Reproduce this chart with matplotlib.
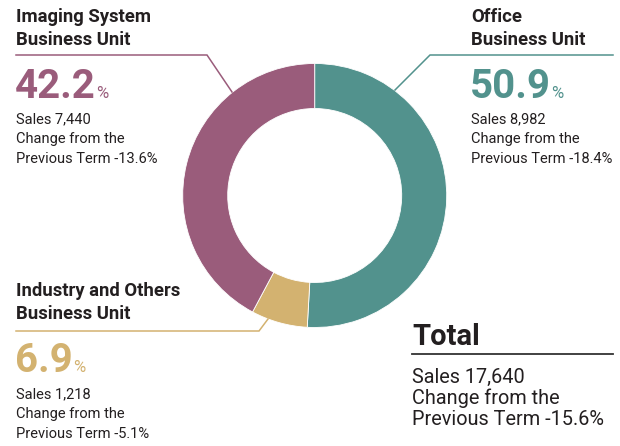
import matplotlib
matplotlib.use("Agg")
import matplotlib.pyplot as plt
from matplotlib import font_manager as fm

# data
units = ["Office\nBusiness Unit", "Industry and Others\nBusiness Unit", "Imaging System\nBusiness Unit"]
shares = [50.9, 6.9, 42.2]
sales = ["8,982", "1,218", "7,440"]
changes = ["-18.4%", "-5.1%", "-13.6%"]
colors = ["#52928d", "#d3b270", "#9a5c7b"]
total_sales = "17,640"
total_change = "-15.6%"

W, H = 620, 446
DARK = "#231f20"

font = "Roboto"
try:
    fm.findfont("Liberation Sans Narrow", fallback_to_default=False)
    font = "Liberation Sans Narrow"
except Exception:
    pass
plt.rcParams["font.family"] = [font, "DejaVu Sans"]

fig = plt.figure(figsize=(W / 100, H / 100), dpi=100)
ax = fig.add_axes([0, 0, 1, 1])

cx, cy, R, ring = 314.7, H - 195.5, 132, 45
ax.pie(shares, colors=colors, startangle=90, counterclock=False,
       center=(cx, cy), radius=R,
       wedgeprops=dict(width=ring, edgecolor="white", linewidth=0.6))
ax.set_xlim(0, W)
ax.set_ylim(0, H)
ax.set_aspect("equal")
ax.axis("off")


def y(p):
    return H - p


# leader lines (pixel coords from top-left)
leaders = [
    [(613, 55), (430, 55), (395, 90)],
    [(16, 331), (259, 331), (268, 319)],
    [(16, 55), (207, 55), (232, 92)],
]
for pts, c in zip(leaders, colors):
    ax.plot([p[0] for p in pts], [y(p[1]) for p in pts], color=c, lw=1.1,
            solid_joinstyle="miter")

# label blocks: x, title baseline, pct baseline, first info baseline
blocks = [(471, 22, 98, 123), (16, 296, 372, 398), (16, 22, 98, 123)]

fig.canvas.draw()
rend = fig.canvas.get_renderer()
for i, (x0, tb, pb, ib) in enumerate(blocks):
    l1, l2 = units[i].split("\n")
    ax.text(x0, y(tb), l1, fontsize=13.3, fontweight="bold", color=DARK, va="baseline")
    ax.text(x0, y(tb + 23), l2, fontsize=13.3, fontweight="bold", color=DARK, va="baseline")
    t = ax.text(x0 - 1, y(pb), f"{shares[i]}", fontsize=29, fontweight="bold",
                color=colors[i], va="baseline")
    bb = t.get_window_extent(renderer=rend)
    ax.text(bb.x1 + 0.5, y(pb), "%", fontsize=12, color=colors[i], va="baseline")
    info = [f"Sales {sales[i]}", "Change from the", f"Previous Term {changes[i]}"]
    for k, s in enumerate(info):
        ax.text(x0, y(ib + 20 * k), s, fontsize=10.5, color=DARK, va="baseline")

# total block
ax.text(412, y(345), "Total", fontsize=21, fontweight="bold", color=DARK, va="baseline")
ax.plot([412, 613], [y(354), y(354)], color="#333333", lw=1.3)
tot = [f"Sales {total_sales}", "Change from the", f"Previous Term {total_change}"]
for k, s in enumerate(tot):
    ax.text(412, y(383 + 21 * k), s, fontsize=14.3, color=DARK, va="baseline")

fig.savefig("out.png", dpi=100)
